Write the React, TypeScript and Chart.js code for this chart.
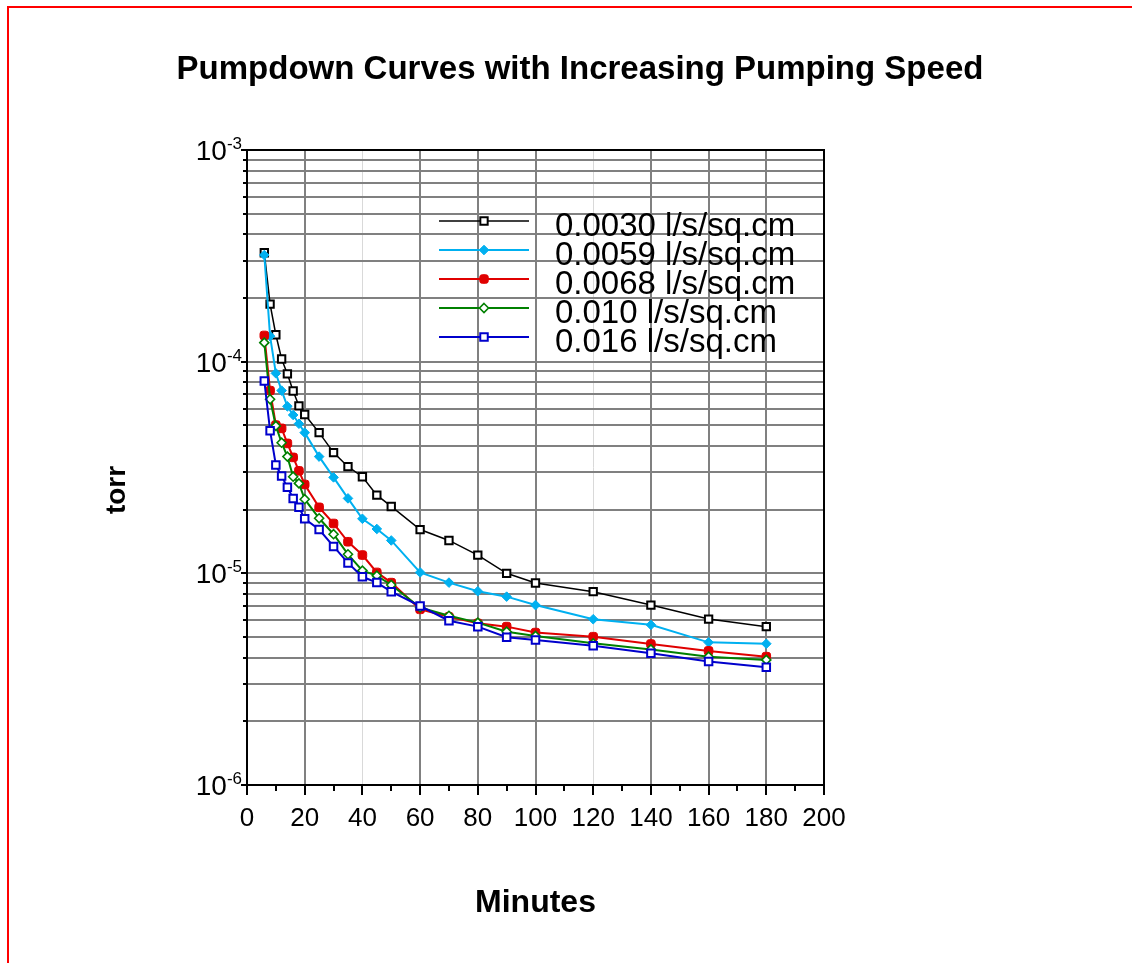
import React, { useEffect, useRef } from 'react';
import { Chart, registerables } from 'chart.js';

Chart.register(...registerables);

// ---------- data ----------
const chartTitle = 'Pumpdown Curves with Increasing Pumping Speed';
const xAxisTitle = 'Minutes';
const yAxisTitle = 'torr';

const minutes = [6, 8, 10, 12, 14, 16, 18, 20, 25, 30, 35, 40, 45, 50, 60, 70, 80, 90, 100, 120, 140, 160, 180];

const seriesNames = [
  '0.0030 l/s/sq.cm',
  '0.0059 l/s/sq.cm',
  '0.0068 l/s/sq.cm',
  '0.010 l/s/sq.cm',
  '0.016 l/s/sq.cm',
];

const speed0030 = [3.27e-4, 1.87e-4, 1.34e-4, 1.03e-4, 8.75e-5, 7.27e-5, 6.18e-5, 5.63e-5, 4.62e-5, 3.72e-5, 3.19e-5, 2.86e-5, 2.34e-5, 2.07e-5, 1.61e-5, 1.43e-5, 1.22e-5, 1.0e-5, 9.0e-6, 8.19e-6, 7.08e-6, 6.08e-6, 5.6e-6];
const speed0059 = [3.19e-4, 1.32e-4, 8.81e-5, 7.3e-5, 6.15e-5, 5.6e-5, 5.09e-5, 4.62e-5, 3.56e-5, 2.84e-5, 2.26e-5, 1.81e-5, 1.62e-5, 1.43e-5, 1.01e-5, 9.04e-6, 8.23e-6, 7.76e-6, 7.08e-6, 6.07e-6, 5.71e-6, 4.72e-6, 4.65e-6];
const speed0068 = [1.33e-4, 7.3e-5, 5.02e-5, 4.84e-5, 4.11e-5, 3.53e-5, 3.05e-5, 2.63e-5, 2.05e-5, 1.72e-5, 1.41e-5, 1.22e-5, 1.01e-5, 9.04e-6, 6.76e-6, 6.24e-6, 5.81e-6, 5.6e-6, 5.25e-6, 5.02e-6, 4.64e-6, 4.3e-6, 4.04e-6];
const speed010 = [1.23e-4, 6.64e-5, 4.97e-5, 4.14e-5, 3.56e-5, 2.86e-5, 2.66e-5, 2.24e-5, 1.82e-5, 1.53e-5, 1.23e-5, 1.03e-5, 9.75e-6, 8.81e-6, 6.9e-6, 6.3e-6, 5.85e-6, 5.3e-6, 5.06e-6, 4.67e-6, 4.37e-6, 4.04e-6, 3.9e-6];
const speed016 = [8.11e-5, 4.72e-5, 3.25e-5, 2.88e-5, 2.55e-5, 2.26e-5, 2.05e-5, 1.81e-5, 1.61e-5, 1.34e-5, 1.12e-5, 9.63e-6, 9.04e-6, 8.19e-6, 7.01e-6, 5.97e-6, 5.6e-6, 4.99e-6, 4.84e-6, 4.55e-6, 4.19e-6, 3.83e-6, 3.6e-6];

const seriesValues = [speed0030, speed0059, speed0068, speed010, speed016];

const xTickValues = [0, 20, 40, 60, 80, 100, 120, 140, 160, 180, 200];
const xTickLabels = ['0', '20', '40', '60', '80', '100', '120', '140', '160', '180', '200'];
const xMinorTickValues = [10, 30, 50, 70, 90, 110, 130, 150, 170, 190];
const xLightGridValues = [40, 120];
const yDecadeExponents = [-6, -5, -4, -3];
const yMinorMultipliers = [2, 3, 4, 5, 6, 7, 8, 9];

// ---------- styles ----------
const FONT = "'Liberation Sans', Arial, Helvetica, sans-serif";
const seriesColors = ['#000000', '#00b0f0', '#e00000', '#008000', '#0000cc'];
const seriesFills = ['#ffffff', '#00b0f0', '#e00000', '#ffffff', '#ffffff'];
const seriesPointStyles = ['rect', 'rectRot', 'rectRounded', 'rectRot', 'rect'];
const seriesPointRadius = [5.2, 4.8, 5, 4.5, 5.3];
const seriesPointBorder = [2, 1, 1, 1.6, 2];
const seriesLineWidth = [1.5, 2, 2, 2, 2];
const seriesOrder = [5, 4, 3, 2, 1];

function yGridValues(): number[] {
  const vals: number[] = [];
  for (const e of yDecadeExponents) {
    vals.push(Math.pow(10, e));
    if (e < yDecadeExponents[yDecadeExponents.length - 1]) {
      for (const m of yMinorMultipliers) vals.push(m * Math.pow(10, e));
    }
  }
  return vals;
}

function drawMarker(ctx: CanvasRenderingContext2D, style: string, x: number, y: number, r: number, fill: string, stroke: string, bw: number) {
  ctx.beginPath();
  if (style === 'rect') {
    const h = r * Math.SQRT1_2;
    ctx.rect(x - h, y - h, 2 * h, 2 * h);
  } else if (style === 'rectRot') {
    ctx.moveTo(x, y - r);
    ctx.lineTo(x + r, y);
    ctx.lineTo(x, y + r);
    ctx.lineTo(x - r, y);
    ctx.closePath();
  } else {
    const cr = r * 0.516;
    const s = (r - cr) * Math.SQRT1_2;
    ctx.moveTo(x - s - cr, y - s);
    ctx.arc(x - s, y - s, cr, Math.PI, 1.5 * Math.PI);
    ctx.arc(x + s, y - s, cr, 1.5 * Math.PI, 2 * Math.PI);
    ctx.arc(x + s, y + s, cr, 0, 0.5 * Math.PI);
    ctx.arc(x - s, y + s, cr, 0.5 * Math.PI, Math.PI);
    ctx.closePath();
  }
  ctx.fillStyle = fill;
  ctx.fill();
  ctx.lineWidth = bw;
  ctx.strokeStyle = stroke;
  ctx.stroke();
}

const decorPlugin = {
  id: 'decor',
  afterDraw(chart: any) {
    const ctx: CanvasRenderingContext2D = chart.ctx;
    const { left, right, top, bottom } = chart.chartArea;
    const xs = chart.scales.x;
    const ys = chart.scales.y;
    ctx.save();

    // frame
    ctx.strokeStyle = '#000';
    ctx.lineWidth = 2;
    ctx.strokeRect(left, top, right - left, bottom - top);

    // x tick marks
    ctx.beginPath();
    for (const v of xTickValues) {
      const px = Math.round(xs.getPixelForValue(v));
      ctx.moveTo(px, bottom);
      ctx.lineTo(px, bottom + 10);
    }
    for (const v of xMinorTickValues) {
      const px = Math.round(xs.getPixelForValue(v));
      ctx.moveTo(px, bottom);
      ctx.lineTo(px, bottom + 6);
    }
    // y tick marks
    for (const v of yGridValues()) {
      const py = Math.round(ys.getPixelForValue(v));
      const isDecade = Math.abs(Math.log10(v) - Math.round(Math.log10(v))) < 1e-9;
      ctx.moveTo(left, py);
      ctx.lineTo(left - (isDecade ? 6 : 4), py);
    }
    ctx.stroke();

    // y decade labels with superscripts
    ctx.fillStyle = '#000';
    ctx.textAlign = 'right';
    ctx.textBaseline = 'alphabetic';
    for (const e of yDecadeExponents) {
      const py = ys.getPixelForValue(Math.pow(10, e));
      ctx.font = `17px ${FONT}`;
      const sup = String(e);
      const supW = ctx.measureText(sup).width;
      ctx.fillText(sup, left - 5, py - 1);
      ctx.font = `28px ${FONT}`;
      ctx.fillText('10', left - 5 - supW, py + 10);
    }

    // y axis title
    ctx.save();
    ctx.translate(117, 490);
    ctx.rotate(-Math.PI / 2);
    ctx.font = `bold 28px ${FONT}`;
    ctx.textAlign = 'center';
    ctx.textBaseline = 'middle';
    ctx.fillText(yAxisTitle, 0, 0);
    ctx.restore();

    // chart title
    ctx.font = `bold 33px ${FONT}`;
    ctx.textAlign = 'center';
    ctx.textBaseline = 'middle';
    ctx.fillText(chartTitle, 580, 70);

    // legend
    const lx0 = left + 192;
    const lx1 = left + 282;
    const ly0 = top + 71;
    const step = 29;
    seriesNames.forEach((name, i) => {
      const y = ly0 + i * step;
      ctx.beginPath();
      ctx.moveTo(lx0, y);
      ctx.lineTo(lx1, y);
      ctx.strokeStyle = seriesColors[i];
      ctx.lineWidth = seriesLineWidth[i];
      ctx.stroke();
      drawMarker(ctx, seriesPointStyles[i], (lx0 + lx1) / 2, y, seriesPointRadius[i], seriesFills[i], seriesColors[i], seriesPointBorder[i]);
      ctx.fillStyle = '#000';
      ctx.font = `33px ${FONT}`;
      ctx.textAlign = 'left';
      ctx.textBaseline = 'middle';
      ctx.fillText(name, left + 308, y + 6);
    });

    ctx.restore();
  },
};

export default function App() {
  const ref = useRef<HTMLCanvasElement>(null);

  useEffect(() => {
    const canvas = ref.current;
    if (!canvas) return;
    const datasets = seriesNames.map((name, i) => ({
      label: name,
      data: minutes.map((m, j) => ({ x: m, y: seriesValues[i][j] })),
      borderColor: seriesColors[i],
      backgroundColor: seriesFills[i],
      pointBackgroundColor: seriesFills[i],
      pointBorderColor: seriesColors[i],
      pointStyle: seriesPointStyles[i],
      pointRadius: seriesPointRadius[i],
      pointBorderWidth: seriesPointBorder[i],
      borderWidth: seriesLineWidth[i],
      tension: 0,
      fill: false,
      order: seriesOrder[i],
    }));

    const chart = new Chart(canvas, {
      type: 'line',
      data: { datasets },
      plugins: [decorPlugin],
      options: {
        responsive: false,
        animation: false,
        devicePixelRatio: 1,
        layout: { padding: { left: 100, right: 308, top: 150, bottom: 41 } },
        plugins: {
          legend: { display: false },
          title: { display: false },
          tooltip: { enabled: false },
        },
        scales: {
          x: {
            type: 'linear',
            min: 0,
            max: 200,
            afterBuildTicks: (s: any) => {
              s.ticks = xTickValues.map((v) => ({ value: v }));
            },
            afterFit: (s: any) => {
              s.height = 137;
            },
            border: { display: false },
            grid: {
              drawTicks: false,
              color: (c: any) => {
                const v = c.tick ? c.tick.value : 0;
                if (v === 0 || v === 200) return 'rgba(0,0,0,0)';
                return xLightGridValues.includes(v) ? '#d9d9d9' : '#808080';
              },
              lineWidth: (c: any) => {
                const v = c.tick ? c.tick.value : 0;
                return xLightGridValues.includes(v) ? 1 : 2;
              },
            },
            ticks: {
              autoSkip: false,
              maxRotation: 0,
              minRotation: 0,
              padding: 18,
              color: '#000',
              font: { family: FONT, size: 26 },
              callback: (v: any) => {
                const idx = xTickValues.indexOf(Number(v));
                return idx >= 0 ? xTickLabels[idx] : '';
              },
            },
            title: {
              display: true,
              text: xAxisTitle,
              color: '#000',
              padding: 0,
              font: { family: FONT, size: 32, weight: 'bold' },
            },
          },
          y: {
            type: 'logarithmic',
            min: 1e-6,
            max: 1e-3,
            afterBuildTicks: (s: any) => {
              s.ticks = yGridValues().map((v) => ({ value: v }));
            },
            afterFit: (s: any) => {
              s.width = 147;
            },
            border: { display: false },
            grid: {
              drawTicks: false,
              color: (c: any) => {
                const v = c.tick ? c.tick.value : 0;
                if (v === 1e-6 || v === 1e-3) return 'rgba(0,0,0,0)';
                return '#808080';
              },
              lineWidth: 2,
            },
            ticks: { display: false },
            title: { display: false },
          },
        },
      } as any,
    });

    return () => chart.destroy();
  }, []);

  return (
    <>
      <div
        style={{
          position: 'fixed',
          left: 7,
          top: 6,
          width: 1300,
          height: 1100,
          borderTop: '2px solid #ff0000',
          borderLeft: '2px solid #ff0000',
          boxSizing: 'border-box',
          pointerEvents: 'none',
        }}
      />
      <div style={{ position: 'fixed', left: 0, top: 0, width: 1132, height: 963 }}>
        <canvas ref={ref} width={1132} height={963} style={{ display: 'block' }} />
      </div>
    </>
  );
}
